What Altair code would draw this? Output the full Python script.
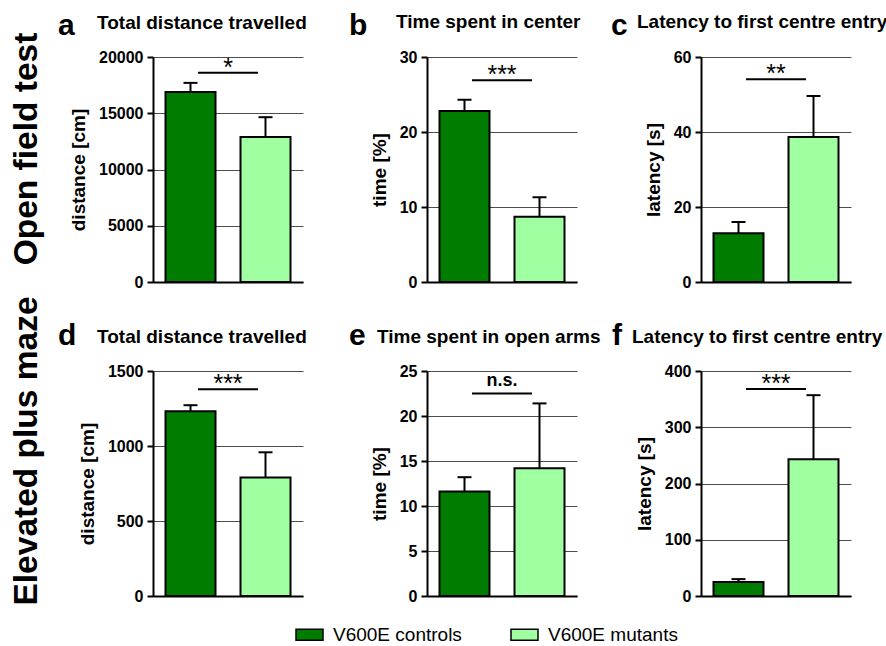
import altair as alt
import pandas as pd

# ---------------- data ----------------
groups = ["V600E controls", "V600E mutants"]
letters = ["a", "b", "c", "d", "e", "f"]
titles = ["Total distance travelled", "Time spent in center", "Latency to first centre entry",
          "Total distance travelled", "Time spent in open arms", "Latency to first centre entry"]
y_titles = ["distance [cm]", "time [%]", "latency [s]",
            "distance [cm]", "time [%]", "latency [s]"]
means = [[16900, 12900], [22.8, 8.7], [13.0, 38.7],
         [1232, 790], [11.6, 14.2], [25, 243]]
sems = [[800, 1750], [1.5, 2.6], [3.0, 10.9],
        [40, 168], [1.6, 7.2], [5, 114]]
y_max = [20000, 30, 60, 1500, 25, 400]
y_step = [5000, 10, 20, 500, 5, 100]
sig_text = ["*", "***", "**", "***", "n.s.", "***"]
sig_level = [18600, 26.9, 54.1, 1379, 22.5, 368]
row_labels = ["Open field test", "Elevated plus maze"]

# ---------------- layout / style ----------------
FONT = "Liberation Sans"
colors = ["#007c00", "#a0ffa0"]
W, H = 150, 225
letter_xy = [(-95, -22), (-78, -22), (-90, -22), (-95, -26), (-78, -26), (-89, -26)]
title_xy = [(-56, -28), (-31, -29), (-64, -29), (-56, -28), (-50, -28), (-69, -28)]
row_label_xy = {0: (-116, 92), 3: (-116, 80)}
BR_X1, BR_X2 = 45, 105

legend = alt.Legend(
    title=None, orient="none", legendX=142, legendY=563, direction="horizontal",
    columns=2, columnPadding=46,
    symbolType="M-1,-0.4L1,-0.4L1,0.4L-1,0.4Z", symbolSize=729,
    symbolStrokeColor="black", symbolStrokeWidth=1.5, symbolOpacity=1,
    labelFont=FONT, labelFontSize=19, labelColor="black", labelOffset=9,
)


def panel(i):
    df = pd.DataFrame({
        "group": groups,
        "mean": means[i],
        "top": [m + s for m, s in zip(means[i], sems[i])],
    })
    nt = int(round(y_max[i] / y_step[i]))
    ticks = [k * y_step[i] for k in range(nt + 1)]
    xs = alt.Scale(domain=groups, paddingInner=1 / 3, paddingOuter=1 / 6)
    xax = alt.Axis(title=None, labels=False, ticks=False, grid=False, domain=True,
                   domainColor="black", domainWidth=2)
    ys = alt.Scale(domain=[0, y_max[i]], nice=False, zero=True)
    yax = alt.Axis(title=y_titles[i], values=ticks, format="d", grid=True)
    X = alt.X("group:N", scale=xs, axis=xax)
    base = alt.Chart(df)
    err = base.mark_rule(color="black", strokeWidth=2).encode(
        x=X, y=alt.Y("mean:Q", scale=ys, axis=yax), y2="top:Q")
    cap = base.mark_tick(color="black", thickness=2, size=14, opacity=1).encode(
        x=X, y=alt.Y("top:Q", scale=ys, axis=yax))
    bars = base.mark_bar(stroke="black", strokeWidth=2, opacity=1).encode(
        x=X, y=alt.Y("mean:Q", scale=ys, axis=yax),
        color=alt.Color("group:N", scale=alt.Scale(domain=groups, range=colors), legend=legend))

    sig = pd.DataFrame({"level": [sig_level[i]], "label": [sig_text[i]]})
    bracket = alt.Chart(sig).mark_rule(color="black", strokeWidth=2).encode(
        x=alt.value(BR_X1), x2=alt.value(BR_X2), y=alt.Y("level:Q", scale=ys, axis=yax))
    if sig_text[i] == "n.s.":
        st = dict(fontSize=18, fontWeight="bold", dy=-8)
    else:
        st = dict(fontSize=25, fontWeight="normal", dy=3)
    star = alt.Chart(sig).mark_text(font=FONT, color="black", align="center",
                                    baseline="alphabetic", **st).encode(
        x=alt.value((BR_X1 + BR_X2) / 2), y=alt.Y("level:Q", scale=ys, axis=yax), text="label:N")

    ann = pd.DataFrame({"letter": [letters[i]], "title": [titles[i]]})
    lx, ly = letter_xy[i]
    tx, ty = title_xy[i]
    letter = alt.Chart(ann).mark_text(font=FONT, fontSize=30, fontWeight="bold", color="black",
                                      align="left", baseline="alphabetic").encode(
        x=alt.value(lx), y=alt.value(ly), text="letter:N")
    title = alt.Chart(ann).mark_text(font=FONT, fontSize=19, fontWeight="bold", color="black",
                                     align="left", baseline="alphabetic").encode(
        x=alt.value(tx), y=alt.value(ty), text="title:N")
    layers = [err, cap, bars, bracket, star, letter, title]
    if i in row_label_xy:
        rx, ry = row_label_xy[i]
        rl = pd.DataFrame({"row": [row_labels[0 if i == 0 else 1]]})
        layers.append(alt.Chart(rl).mark_text(font=FONT, fontSize=33.5, fontWeight="bold",
                                              color="black", angle=270, align="center",
                                              baseline="alphabetic").encode(
            x=alt.value(rx), y=alt.value(ry), text="row:N"))
    return alt.layer(*layers).properties(width=W, height=H)


chart = alt.concat(*[panel(i) for i in range(6)], columns=3,
                   spacing={"row": 89, "column": 124}, bounds="flush").resolve_scale(
    x="independent", y="independent", color="shared").configure_view(stroke=None).configure_axisY(
    gridColor="#4d4d4d", gridWidth=1,
    domainColor="black", domainWidth=2,
    tickColor="black", tickWidth=2, tickSize=6,
    labelFont=FONT, labelFontSize=16, labelFontWeight="bold",
    labelColor="black", labelPadding=4,
    titleFont=FONT, titleFontSize=19, titleFontWeight="bold",
    titleColor="black", titlePadding=10).properties(
    autosize=alt.AutoSizeParams(type="none"),
    padding={"left": 153, "top": 57, "right": 733, "bottom": 589},
    background="white")

chart.save("out.html", embed_options={"renderer": "svg", "actions": False})
